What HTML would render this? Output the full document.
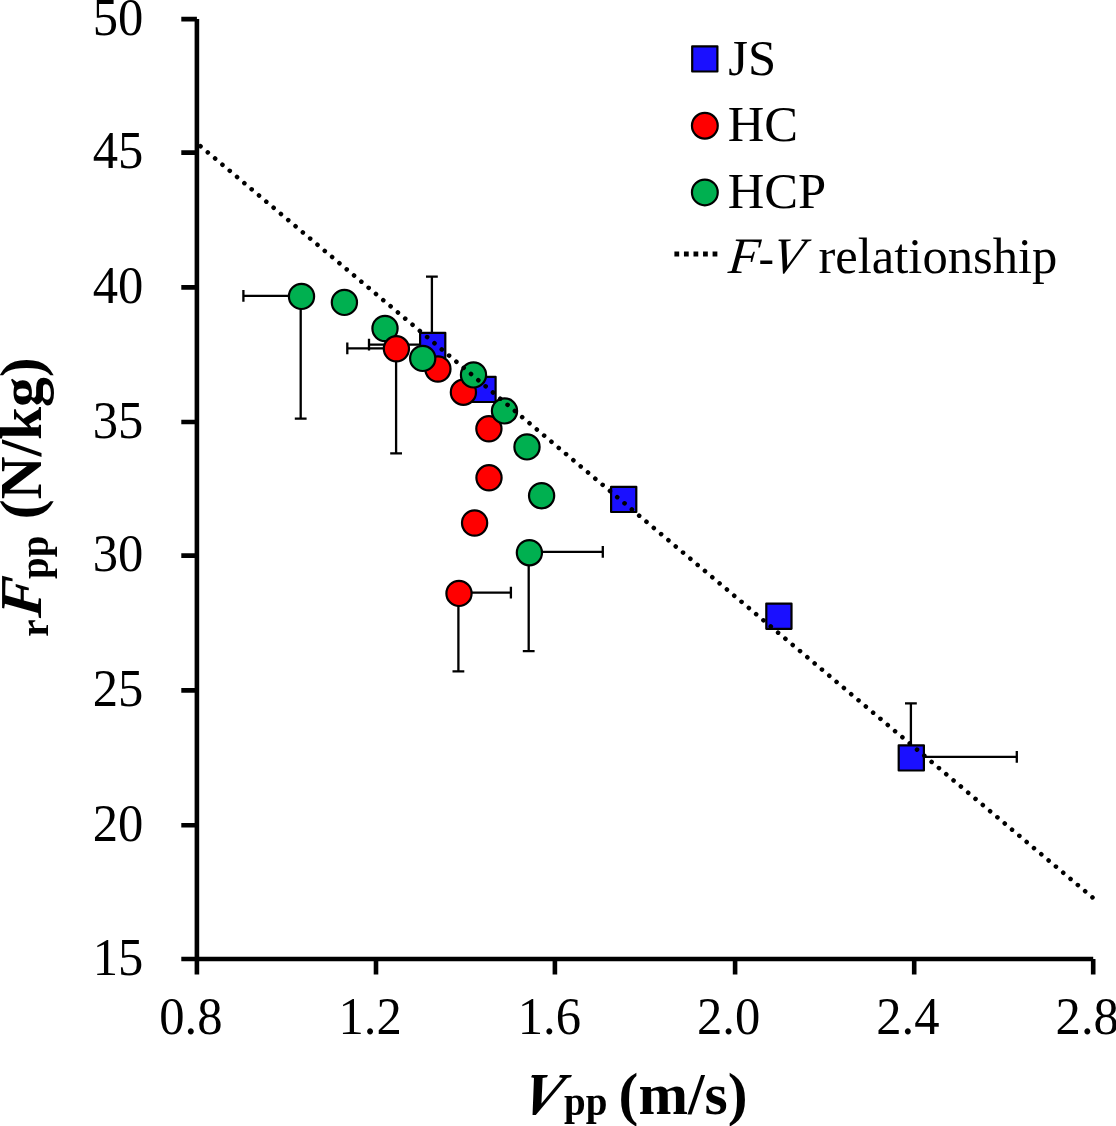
<!DOCTYPE html>
<html><head><meta charset="utf-8"><style>
html,body{margin:0;padding:0;background:#fff;}
body{width:1116px;height:1126px;overflow:hidden;}
svg{display:block;will-change:transform;}
.t{font-family:"Liberation Serif",serif;font-size:50.6px;fill:#000;}
.b{font-family:"Liberation Serif",serif;font-size:60px;font-weight:bold;fill:#000;}
</style></head><body>
<svg width="1116" height="1126" viewBox="0 0 1116 1126">
<path d="M196.9 19.1V974.4M181.3 959.0H1093.2" stroke="#000" stroke-width="4.6" fill="none"/>
<path d="M181.3 19.10H196.9M181.3 152.60H196.9M181.3 287.40H196.9M181.3 422.00H196.9M181.3 555.60H196.9M181.3 690.40H196.9M181.3 825.20H196.9M376.00 959.0V974.4M554.90 959.0V974.4M735.10 959.0V974.4M914.20 959.0V974.4M1093.20 959.0V974.4" stroke="#000" stroke-width="4.6" fill="none"/>
<text transform="translate(143.3 34.70) scale(1 1.04)" text-anchor="end" class="t">50</text>
<text transform="translate(143.3 168.20) scale(1 1.04)" text-anchor="end" class="t">45</text>
<text transform="translate(143.3 303.00) scale(1 1.04)" text-anchor="end" class="t">40</text>
<text transform="translate(143.3 437.60) scale(1 1.04)" text-anchor="end" class="t">35</text>
<text transform="translate(143.3 571.20) scale(1 1.04)" text-anchor="end" class="t">30</text>
<text transform="translate(143.3 706.00) scale(1 1.04)" text-anchor="end" class="t">25</text>
<text transform="translate(143.3 840.80) scale(1 1.04)" text-anchor="end" class="t">20</text>
<text transform="translate(143.3 974.60) scale(1 1.04)" text-anchor="end" class="t">15</text>
<text transform="translate(190.90 1033.8) scale(1 1.04)" text-anchor="middle" class="t">0.8</text>
<text transform="translate(370.16 1033.8) scale(1 1.04)" text-anchor="middle" class="t">1.2</text>
<text transform="translate(549.42 1033.8) scale(1 1.04)" text-anchor="middle" class="t">1.6</text>
<text transform="translate(728.68 1033.8) scale(1 1.04)" text-anchor="middle" class="t">2.0</text>
<text transform="translate(907.94 1033.8) scale(1 1.04)" text-anchor="middle" class="t">2.4</text>
<text transform="translate(1087.20 1033.8) scale(1 1.04)" text-anchor="middle" class="t">2.8</text>
<path d="M431.90 345.40V276.70M426.00 276.70H437.80" stroke="#000" stroke-width="2.3" fill="none"/>
<path d="M432.70 344.70H369.00M369.00 338.80V350.60" stroke="#000" stroke-width="2.3" fill="none"/>
<path d="M910.90 757.90V703.40M905.00 703.40H916.80" stroke="#000" stroke-width="2.3" fill="none"/>
<path d="M911.30 756.80H1016.80M1016.80 750.90V762.70" stroke="#000" stroke-width="2.3" fill="none"/>
<rect x="420.10" y="332.80" width="25.2" height="25.2" fill="#1a10ff" stroke="#000" stroke-width="2.2" stroke-linejoin="round"/>
<rect x="470.40" y="376.80" width="25.2" height="25.2" fill="#1a10ff" stroke="#000" stroke-width="2.2" stroke-linejoin="round"/>
<rect x="611.10" y="486.80" width="25.2" height="25.2" fill="#1a10ff" stroke="#000" stroke-width="2.2" stroke-linejoin="round"/>
<rect x="766.30" y="603.60" width="25.2" height="25.2" fill="#1a10ff" stroke="#000" stroke-width="2.2" stroke-linejoin="round"/>
<rect x="898.70" y="745.30" width="25.2" height="25.2" fill="#1a10ff" stroke="#000" stroke-width="2.2" stroke-linejoin="round"/>
<path d="M396.40 348.40H347.30M347.30 342.50V354.30" stroke="#000" stroke-width="2.3" fill="none"/>
<path d="M396.10 348.80V453.30M390.20 453.30H402.00" stroke="#000" stroke-width="2.3" fill="none"/>
<path d="M458.80 592.60H510.90M510.90 586.70V598.50" stroke="#000" stroke-width="2.3" fill="none"/>
<path d="M458.40 593.00V671.30M452.50 671.30H464.30" stroke="#000" stroke-width="2.3" fill="none"/>
<circle cx="437.90" cy="369.00" r="12.6" fill="#ff0000" stroke="#000" stroke-width="2.2"/>
<circle cx="463.40" cy="392.20" r="12.6" fill="#ff0000" stroke="#000" stroke-width="2.2"/>
<circle cx="488.90" cy="428.80" r="12.6" fill="#ff0000" stroke="#000" stroke-width="2.2"/>
<circle cx="489.00" cy="477.80" r="12.6" fill="#ff0000" stroke="#000" stroke-width="2.2"/>
<circle cx="474.60" cy="523.00" r="12.6" fill="#ff0000" stroke="#000" stroke-width="2.2"/>
<circle cx="459.00" cy="593.40" r="12.6" fill="#ff0000" stroke="#000" stroke-width="2.2"/>
<path d="M301.10 295.80H243.40M243.40 289.90V301.70" stroke="#000" stroke-width="2.3" fill="none"/>
<path d="M300.70 296.10V418.60M294.80 418.60H306.60" stroke="#000" stroke-width="2.3" fill="none"/>
<path d="M529.00 551.80H602.80M602.80 545.90V557.70" stroke="#000" stroke-width="2.3" fill="none"/>
<path d="M528.70 552.40V651.20M522.80 651.20H534.60" stroke="#000" stroke-width="2.3" fill="none"/>
<circle cx="301.50" cy="296.40" r="12.6" fill="#00b050" stroke="#000" stroke-width="2.2"/>
<circle cx="344.40" cy="302.40" r="12.6" fill="#00b050" stroke="#000" stroke-width="2.2"/>
<circle cx="385.00" cy="328.50" r="12.6" fill="#00b050" stroke="#000" stroke-width="2.2"/>
<circle cx="422.70" cy="358.40" r="12.6" fill="#00b050" stroke="#000" stroke-width="2.2"/>
<circle cx="473.50" cy="374.90" r="12.6" fill="#00b050" stroke="#000" stroke-width="2.2"/>
<circle cx="504.50" cy="410.90" r="12.6" fill="#00b050" stroke="#000" stroke-width="2.2"/>
<circle cx="527.00" cy="446.90" r="12.6" fill="#00b050" stroke="#000" stroke-width="2.2"/>
<circle cx="541.60" cy="495.70" r="12.6" fill="#00b050" stroke="#000" stroke-width="2.2"/>
<circle cx="529.40" cy="552.70" r="12.6" fill="#00b050" stroke="#000" stroke-width="2.2"/>
<circle cx="396.40" cy="348.80" r="12.6" fill="#ff0000" stroke="#000" stroke-width="2.2"/>
<path d="M196.9 143.2L1093.2 898.0" stroke="#000" stroke-width="4.6" stroke-linecap="round" stroke-dasharray="0.01 9.5484" stroke-dashoffset="-4.70" fill="none"/>
<rect x="692.20" y="46.30" width="25.2" height="25.2" fill="#1a10ff" stroke="#000" stroke-width="2.2" stroke-linejoin="round"/>
<circle cx="704.85" cy="125.75" r="12.9" fill="#ff0000" stroke="#000" stroke-width="2.2"/>
<circle cx="704.85" cy="192.45" r="12.9" fill="#00b050" stroke="#000" stroke-width="2.2"/>
<path d="M674.4 254H722" stroke="#000" stroke-width="4.774" stroke-dasharray="4.774 4.774" fill="none"/>
<text transform="translate(728.3 74.6) scale(1 1.01)" class="t">JS</text>
<text transform="translate(727.8 141.2) scale(1 1.01)" class="t">HC</text>
<text transform="translate(727.8 207.6) scale(1 1.01)" class="t">HCP</text>
<text transform="translate(727.6 272.5) skewX(-5.5) scale(1 1.01)" class="t" style="font-style:italic">F</text>
<text transform="translate(758.5 272.5) scale(0.92 0.9)" class="t" style="font-style:italic">-</text>
<text transform="translate(769.9 272.5) skewX(-10) scale(1 1.01)" class="t" style="font-style:italic">V</text>
<text transform="translate(818.5 272.5) scale(1 1.01)" class="t">relationship</text>
<text transform="translate(0 1074) skewX(-15.4) translate(0 -1074)" x="528.6" y="1114.3" class="b" style="font-style:italic;font-size:59.5px">V</text>
<text x="564.1" y="1115.2" class="b" style="font-size:39.0px">pp</text>
<text x="618.6" y="1114.4" class="b" style="font-size:59.5px">(m/s)</text>
<g transform="rotate(-90)">
<text x="-636.75" y="47.9" class="b" style="font-size:39.0px">r</text>
<text transform="translate(0 41) skewX(-5.7) translate(0 -41)" x="-618.3" y="41.0" class="b" style="font-style:italic;font-size:59.5px">F</text>
<text x="-579.0" y="48.1" class="b" style="font-size:39.0px">pp</text>
<text x="-519.3" y="41.0" class="b" style="font-size:59.5px">(N/kg)</text>
</g>
</svg>
</body></html>
